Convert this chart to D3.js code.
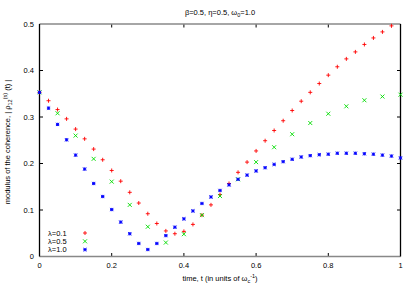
<!DOCTYPE html>
<html>
<head>
<meta charset="utf-8">
<script src="https://cdn.jsdelivr.net/npm/d3@7"></script>
<style>
  body { margin: 0; background: #fff; }
  svg { display: block; font-family: "Liberation Sans", Arial, sans-serif; }
</style>
</head>
<body>
<div id="chart"></div>
<script>
// data
const tFine = [0, 0.025, 0.05, 0.075, 0.1, 0.125, 0.15, 0.175, 0.2, 0.225, 0.25, 0.275, 0.3, 0.325, 0.35,
  0.375, 0.4, 0.425, 0.45, 0.475, 0.5, 0.525, 0.55, 0.575, 0.6, 0.625, 0.65, 0.675, 0.7, 0.725, 0.75,
  0.775, 0.8, 0.825, 0.85, 0.875, 0.9, 0.925, 0.95, 0.975, 1.0];
const tCoarse = [0, 0.05, 0.1, 0.15, 0.2, 0.25, 0.3, 0.35, 0.4, 0.45, 0.5, 0.55, 0.6, 0.65, 0.7, 0.75,
  0.8, 0.85, 0.9, 0.95, 1.0];

const lambda01 = [0.353, 0.335, 0.316, 0.296, 0.274, 0.253, 0.231, 0.208, 0.185, 0.162, 0.138, 0.115,
  0.092, 0.071, 0.055, 0.049, 0.054, 0.069, 0.089, 0.111, 0.133, 0.157, 0.181, 0.203, 0.227, 0.249,
  0.271, 0.292, 0.314, 0.334, 0.353, 0.372, 0.390, 0.408, 0.425, 0.440, 0.456, 0.470, 0.483, 0.496];
const lambda05 = [0.353, 0.308, 0.260, 0.210, 0.161, 0.111, 0.064, 0.030, 0.048, 0.089, 0.130, 0.166,
  0.203, 0.235, 0.263, 0.287, 0.307, 0.323, 0.336, 0.344, 0.348];
const lambda10 = [0.353, 0.319, 0.284, 0.251, 0.218, 0.188, 0.157, 0.129, 0.101, 0.074, 0.049, 0.028,
  0.015, 0.028, 0.045, 0.063, 0.081, 0.098, 0.114, 0.128, 0.142, 0.154, 0.166, 0.175, 0.184, 0.191,
  0.198, 0.204, 0.209, 0.214, 0.217, 0.219, 0.220, 0.222, 0.222, 0.222, 0.221, 0.220, 0.218, 0.216, 0.212];

const xTicks = [0, 0.2, 0.4, 0.6, 0.8, 1];
const yTicks = [0, 0.1, 0.2, 0.3, 0.4, 0.5];

const series = [
  { label: 'λ=0.1', t: tFine, v: lambda01, color: '#ff0000', shape: 'plus' },
  { label: 'λ=0.5', t: tCoarse, v: lambda05, color: '#00dd00', shape: 'cross' },
  { label: 'λ=1.0', t: tFine, v: lambda10, color: '#0000ff', shape: 'star' }
];

const w = 415, h = 291;
const pLeft = 39.5, pRight = 400.5, pTop = 24, pBottom = 256.5;

const x = d3.scaleLinear().domain([0, 1]).range([pLeft, pRight]);
const y = d3.scaleLinear().domain([0, 0.5]).range([pBottom, pTop]);

const svg = d3.select('#chart').append('svg')
  .attr('width', w).attr('height', h);

// title
svg.append('text')
  .attr('x', 220).attr('y', 15)
  .attr('text-anchor', 'middle')
  .attr('font-size', 7.5)
  .call(t => {
    t.append('tspan').text('β=0.5, η=0.5, ω');
    t.append('tspan').attr('font-size', 5.5).attr('dy', 1.8).text('0');
    t.append('tspan').attr('dy', -1.8).text('=1.0');
  });

// ticks (inward)
const tl = 3.5;
svg.append('g').selectAll('line')
  .data(xTicks.slice(1, -1)).enter().append('line')
  .attr('x1', d => x(d)).attr('x2', d => x(d))
  .attr('y1', pBottom).attr('y2', pBottom - tl)
  .attr('stroke', '#000').attr('stroke-width', 1);
svg.append('g').selectAll('line')
  .data(xTicks.slice(1, -1)).enter().append('line')
  .attr('x1', d => x(d)).attr('x2', d => x(d))
  .attr('y1', pTop).attr('y2', pTop + tl)
  .attr('stroke', '#000').attr('stroke-width', 1);
svg.append('g').selectAll('line')
  .data(yTicks.slice(1, -1)).enter().append('line')
  .attr('x1', pLeft).attr('x2', pLeft + tl)
  .attr('y1', d => y(d)).attr('y2', d => y(d))
  .attr('stroke', '#000').attr('stroke-width', 1);
svg.append('g').selectAll('line')
  .data(yTicks.slice(1, -1)).enter().append('line')
  .attr('x1', pRight).attr('x2', pRight - tl)
  .attr('y1', d => y(d)).attr('y2', d => y(d))
  .attr('stroke', '#000').attr('stroke-width', 1);

// border
svg.append('line').attr('x1', pLeft).attr('x2', pRight).attr('y1', pTop).attr('y2', pTop)
  .attr('stroke', '#888').attr('stroke-width', 1.6);
svg.append('line').attr('x1', pLeft).attr('x2', pRight).attr('y1', pBottom).attr('y2', pBottom)
  .attr('stroke', '#888').attr('stroke-width', 1.6);
svg.append('line').attr('x1', pLeft).attr('x2', pLeft).attr('y1', pTop).attr('y2', pBottom)
  .attr('stroke', '#000').attr('stroke-width', 1.3);
svg.append('line').attr('x1', pRight).attr('x2', pRight).attr('y1', pTop).attr('y2', pBottom)
  .attr('stroke', '#000').attr('stroke-width', 1.3);

// tick labels
svg.append('g').selectAll('text')
  .data(xTicks).enter().append('text')
  .attr('x', d => x(d)).attr('y', 268)
  .attr('text-anchor', 'middle').attr('font-size', 7.5)
  .text(d => d3.format('~g')(d));
svg.append('g').selectAll('text')
  .data(yTicks).enter().append('text')
  .attr('x', 34).attr('y', d => y(d) + 2.6)
  .attr('text-anchor', 'end').attr('font-size', 7.5)
  .text(d => d3.format('~g')(d));

// axis titles
svg.append('text')
  .attr('x', 220).attr('y', 281)
  .attr('text-anchor', 'middle').attr('font-size', 7.5)
  .call(t => {
    t.append('tspan').text('time, t (in units of ω');
    t.append('tspan').attr('font-size', 5.5).attr('dy', 1.8).text('c');
    t.append('tspan').attr('font-size', 5.5).attr('dy', -5).text('-1');
    t.append('tspan').attr('dy', 3.2).text(')');
  });

svg.append('text')
  .attr('transform', 'translate(10,142) rotate(-90)')
  .attr('text-anchor', 'middle').attr('font-size', 7.5)
  .call(t => {
    t.append('tspan').text('modulus of the coherence, | ρ');
    t.append('tspan').attr('font-size', 5.5).attr('dy', 1.8).text('12');
    t.append('tspan').attr('font-size', 5.5).attr('dy', -5).text('(s)');
    t.append('tspan').attr('dy', 3.2).text(' (t) |');
  });

// point shapes
function marker(g, shape, color, r) {
  const lines = [];
  if (shape === 'plus' || shape === 'star') lines.push([-r, 0, r, 0], [0, -r, 0, r]);
  if (shape === 'cross' || shape === 'star') lines.push([-r, -r, r, r], [-r, r, r, -r]);
  if (shape === 'star') {
    g.append('rect').attr('x', -r).attr('y', -r).attr('width', 2 * r).attr('height', 2 * r)
      .attr('fill', color).attr('fill-opacity', 0.35);
  }
  lines.forEach(l => g.append('line')
    .attr('x1', l[0]).attr('y1', l[1]).attr('x2', l[2]).attr('y2', l[3])
    .attr('stroke', color).attr('stroke-width', 0.9));
}

const clipId = 'plotclip';
svg.append('clipPath').attr('id', clipId).append('rect')
  .attr('x', pLeft - 3).attr('y', pTop - 3).attr('width', pRight - pLeft + 6).attr('height', pBottom - pTop + 6);

const plot = svg.append('g').attr('clip-path', `url(#${clipId})`);
series.forEach(s => {
  plot.append('g').selectAll('g')
    .data(s.v.map((v, i) => [s.t[i], v])).enter().append('g')
    .attr('transform', d => `translate(${x(d[0])},${y(d[1])})`)
    .each(function () { marker(d3.select(this), s.shape, s.color, s.shape === 'star' ? 1.6 : 2); });
});

// legend
const legend = svg.append('g');
series.forEach((s, i) => {
  const ly = 233 + i * 8.3;
  legend.append('text')
    .attr('x', 48).attr('y', ly + 2.6)
    .attr('font-size', 7.5).text(s.label);
  const g = legend.append('g').attr('transform', `translate(85,${ly})`);
  marker(g, s.shape, s.color, s.shape === 'star' ? 1.6 : 2);
});
</script>
</body>
</html>
